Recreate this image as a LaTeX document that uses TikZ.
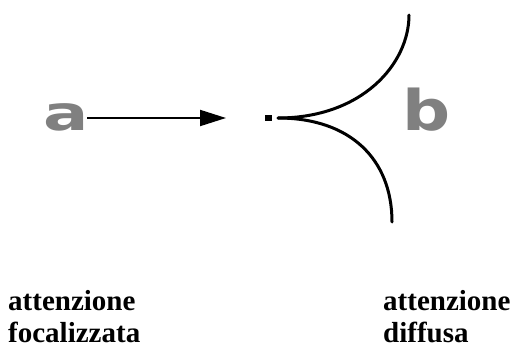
\documentclass[tikz,border=0pt]{standalone}
\usepackage{fontspec}
\setmainfont{Liberation Serif}
\newfontfamily\letterfont{DejaVu Sans}
\usetikzlibrary{arrows.meta}
\begin{document}
\begin{tikzpicture}[x=1pt,y=1pt,
  bigletter/.style={font=\letterfont\bfseries\fontsize{48}{48}\selectfont, text=black!50, inner sep=0pt},
  caption/.style={font=\bfseries\fontsize{29}{32}\selectfont, align=left, anchor=north west, inner sep=0pt},
  curve/.style={line width=3pt, line cap=round}]
\useasboundingbox (0,0) rectangle (513,349);
\node[bigletter, xscale=1.4] (a) at (66,232) {a};
\node[bigletter, xscale=1.2, font=\letterfont\bfseries\fontsize{56}{56}\selectfont] (b) at (427,239) {b};
\coordinate (tip) at (226,231);
\coordinate (astart) at (87,231);
\draw[line width=2pt, -{Triangle[length=26pt,width=16pt]}] (astart) -- (tip);
\node[fill=black, minimum width=7pt, minimum height=6pt, inner sep=0pt] (dot) at (268,231) {};
\coordinate (fork) at (278,231);
\coordinate (up) at (409,334);
\coordinate (down) at (392,127);
\draw[curve] (fork) .. controls (362,231) and (409,285) .. (up);
\draw[curve] (fork) .. controls (350,231) and (392,190) .. (down);
\node[caption] (left) at (8,59) {attenzione\\focalizzata};
\node[caption] (right) at (383,59) {attenzione\\diffusa};
\end{tikzpicture}
\end{document}
